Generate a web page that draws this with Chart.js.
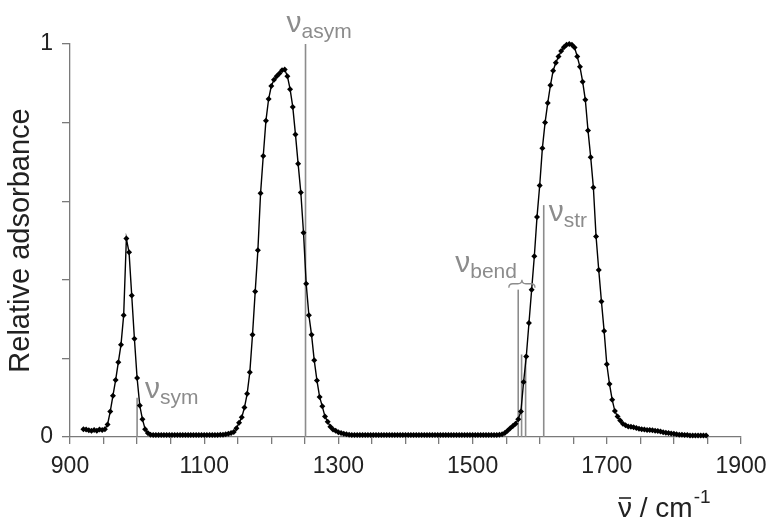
<!DOCTYPE html>
<html>
<head>
<meta charset="utf-8">
<script src="https://cdn.jsdelivr.net/npm/chart.js@4"></script>
<style>
  body { margin: 0; background: #fff; }
  #wrap { width: 770px; height: 522px; }
</style>
</head>
<body>
<div id="wrap"><canvas id="spectrum" width="770" height="522"></canvas></div>
<script>
// wavenumbers (cm-1) and relative absorbance
const wavenumbers = [
  920, 924, 928, 932, 936, 940, 944, 948, 952, 956,
  960, 964, 968, 972, 976, 980, 984, 988, 992, 996,
  1000, 1004, 1008, 1012, 1016, 1020, 1024, 1028, 1032, 1036,
  1040, 1044, 1048, 1052, 1056, 1060, 1064, 1068, 1072, 1076,
  1080, 1084, 1088, 1092, 1096, 1100, 1104, 1108, 1112, 1116,
  1120, 1124, 1128, 1132, 1136, 1140, 1144, 1148, 1152, 1156,
  1160, 1164, 1168, 1172, 1176, 1180, 1184, 1188, 1192, 1196,
  1200, 1204, 1208, 1212, 1216, 1220, 1224, 1228, 1232, 1236,
  1240, 1244, 1248, 1252, 1256, 1260, 1264, 1268, 1272, 1276,
  1280, 1284, 1288, 1292, 1296, 1300, 1304, 1308, 1312, 1316,
  1320, 1324, 1328, 1332, 1336, 1340, 1344, 1348, 1352, 1356,
  1360, 1364, 1368, 1372, 1376, 1380, 1384, 1388, 1392, 1396,
  1400, 1404, 1408, 1412, 1416, 1420, 1424, 1428, 1432, 1436,
  1440, 1444, 1448, 1452, 1456, 1460, 1464, 1468, 1472, 1476,
  1480, 1484, 1488, 1492, 1496, 1500, 1504, 1508, 1512, 1516,
  1520, 1524, 1528, 1532, 1536, 1540, 1544, 1548, 1552, 1556,
  1560, 1564, 1568, 1572, 1576, 1580, 1584, 1588, 1592, 1596,
  1600, 1604, 1608, 1612, 1616, 1620, 1624, 1628, 1632, 1636,
  1640, 1644, 1648, 1652, 1656, 1660, 1664, 1668, 1672, 1676,
  1680, 1684, 1688, 1692, 1696, 1700, 1704, 1708, 1712, 1716,
  1720, 1724, 1728, 1732, 1736, 1740, 1744, 1748, 1752, 1756,
  1760, 1764, 1768, 1772, 1776, 1780, 1784, 1788, 1792, 1796,
  1800, 1804, 1808, 1812, 1816, 1820, 1824, 1828, 1832, 1836,
  1840, 1844, 1848
];
const absorbance = [
  0.020, 0.019, 0.017, 0.016, 0.018, 0.016, 0.019, 0.018, 0.020, 0.032,
  0.065, 0.105, 0.145, 0.190, 0.235, 0.310, 0.505, 0.470, 0.360, 0.250,
  0.150, 0.080, 0.045, 0.020, 0.010, 0.006, 0.005, 0.005, 0.005, 0.005,
  0.005, 0.005, 0.005, 0.005, 0.005, 0.005, 0.005, 0.005, 0.005, 0.005,
  0.005, 0.005, 0.005, 0.005, 0.005, 0.005, 0.005, 0.005, 0.005, 0.005,
  0.005, 0.006, 0.006, 0.007, 0.008, 0.010, 0.013, 0.022, 0.036, 0.050,
  0.075, 0.110, 0.165, 0.260, 0.370, 0.475, 0.620, 0.715, 0.805, 0.860,
  0.893, 0.909, 0.918, 0.925, 0.933, 0.935, 0.918, 0.885, 0.840, 0.770,
  0.695, 0.622, 0.520, 0.390, 0.310, 0.260, 0.195, 0.144, 0.102, 0.078,
  0.052, 0.039, 0.026, 0.019, 0.016, 0.012, 0.010, 0.008, 0.007, 0.006,
  0.005, 0.005, 0.005, 0.005, 0.005, 0.005, 0.005, 0.005, 0.005, 0.005,
  0.005, 0.005, 0.005, 0.005, 0.005, 0.005, 0.005, 0.005, 0.005, 0.005,
  0.005, 0.005, 0.005, 0.005, 0.005, 0.005, 0.005, 0.005, 0.005, 0.005,
  0.005, 0.005, 0.005, 0.005, 0.005, 0.005, 0.005, 0.005, 0.005, 0.005,
  0.005, 0.005, 0.005, 0.005, 0.005, 0.005, 0.005, 0.005, 0.005, 0.005,
  0.005, 0.005, 0.005, 0.005, 0.005, 0.006, 0.007, 0.010, 0.016, 0.022,
  0.028, 0.034, 0.045, 0.065, 0.140, 0.205, 0.290, 0.375, 0.460, 0.560,
  0.640, 0.735, 0.800, 0.850, 0.895, 0.932, 0.952, 0.968, 0.982, 0.992,
  0.998, 1.000, 0.998, 0.991, 0.968, 0.942, 0.904, 0.858, 0.780, 0.712,
  0.635, 0.510, 0.425, 0.345, 0.270, 0.185, 0.135, 0.095, 0.066, 0.052,
  0.042, 0.034, 0.030, 0.027, 0.026, 0.025, 0.023, 0.021, 0.020, 0.019,
  0.018, 0.018, 0.017, 0.016, 0.015, 0.014, 0.012, 0.011, 0.010, 0.009,
  0.008, 0.007, 0.006, 0.006, 0.005, 0.005, 0.004, 0.004, 0.004, 0.004,
  0.004, 0.004, 0.004
];

// calculated band positions (sticks)
const stickPositions = [1000, 1251, 1568, 1573, 1579, 1606];
const stickHeights = [0.10, 1.00, 0.375, 0.21, 0.21, 0.59];

// band labels: nu + subscript, anchored on a stick
const bandNames = ['sym', 'asym', 'bend', 'str'];
const bandStick = [0, 1, 2, 5];

// x ticks every 50, labelled every 200 from 900
const xMin = 900, xMax = 1900;
const yTicksLabelled = [0, 1];

const FONT = '"Liberation Sans", Arial, sans-serif';
const GREY = '#8c8c8c';
const AXIS = '#7a7a7a';

const labelOffsets = {
  sym:  {dx: 8,   dy: 0},
  asym: {dx: -19, dy: -12},
  bend: {dx: -63, dy: -18},
  str:  {dx: 5,   dy: 16}
};

const annotations = {
  id: 'annotations',
  afterDraw(chart) {
    const {ctx, chartArea, scales: {x, y}} = chart;
    ctx.save();
    ctx.fillStyle = GREY;
    ctx.textBaseline = 'alphabetic';
    bandNames.forEach((name, i) => {
      const s = bandStick[i];
      const off = labelOffsets[name];
      const px = x.getPixelForValue(stickPositions[s]) + off.dx;
      const py = y.getPixelForValue(stickHeights[s]) + off.dy;
      ctx.font = '30px ' + FONT;
      ctx.fillText('ν', px, py);
      const w = ctx.measureText('ν').width;
      ctx.font = '21px ' + FONT;
      ctx.fillText(name, px + w, py + 6);
    });

    // brace over the bend sticks
    const bx0 = x.getPixelForValue(1554), bx1 = x.getPixelForValue(1593);
    const by = y.getPixelForValue(0.39);
    const mid = (bx0 + bx1) / 2, r = 4, h = 4;
    ctx.strokeStyle = GREY;
    ctx.lineWidth = 1.3;
    ctx.beginPath();
    ctx.moveTo(bx0, by + h);
    ctx.quadraticCurveTo(bx0, by, bx0 + r, by);
    ctx.lineTo(mid - r, by);
    ctx.quadraticCurveTo(mid, by, mid, by - h);
    ctx.quadraticCurveTo(mid, by, mid + r, by);
    ctx.lineTo(bx1 - r, by);
    ctx.quadraticCurveTo(bx1, by, bx1, by + h);
    ctx.stroke();

    // x axis title: nu-bar / cm-1
    ctx.fillStyle = '#222';
    const tx = chartArea.right - 123, ty = chart.height - 5;
    ctx.font = '28px ' + FONT;
    ctx.fillText('ν', tx, ty);
    const nw = ctx.measureText('ν').width;
    ctx.strokeStyle = '#222';
    ctx.lineWidth = 1.6;
    ctx.beginPath();
    ctx.moveTo(tx + 1, ty - 19);
    ctx.lineTo(tx + nw - 1, ty - 19);
    ctx.stroke();
    const rest = ' / cm';
    ctx.fillText(rest, tx + nw, ty);
    const rw = ctx.measureText(rest).width;
    ctx.font = '19px ' + FONT;
    ctx.fillText('-1', tx + nw + rw + 1, ty - 14);
    ctx.restore();
  }
};

const spectrum = wavenumbers.map((w, i) => ({x: w, y: absorbance[i]}));
const sticks = stickPositions.map((p, i) => ({
  data: [{x: p, y: 0}, {x: p, y: stickHeights[i]}],
  borderColor: GREY,
  borderWidth: 1.6,
  pointRadius: 0,
  clip: false
}));

new Chart(document.getElementById('spectrum'), {
  type: 'line',
  data: {
    datasets: [{
      data: spectrum,
      borderColor: '#000',
      borderWidth: 1.4,
      backgroundColor: '#000',
      pointStyle: 'rectRot',
      pointRadius: 3,
      pointBorderWidth: 0,
      tension: 0,
      clip: false
    }, ...sticks]
  },
  options: {
    responsive: false,
    animation: false,
    devicePixelRatio: 1,
    layout: {padding: {top: 44, right: 29, left: 0, bottom: 0}},
    plugins: {legend: {display: false}, tooltip: {enabled: false}},
    scales: {
      x: {
        type: 'linear',
        min: xMin,
        max: xMax,
        afterFit: s => { s.height = 85; s.paddingRight = 0; s.paddingLeft = 0; },
        border: {display: true, color: AXIS, width: 1.3},
        grid: {drawOnChartArea: false, color: AXIS, tickColor: AXIS, tickLength: 7, lineWidth: 1.3},
        ticks: {
          stepSize: 50,
          autoSkip: false,
          maxRotation: 0,
          padding: 9,
          color: '#222',
          font: {family: FONT, size: 23},
          callback: v => ((v - xMin) % 200 === 0 ? String(v) : '')
        }
      },
      y: {
        min: 0,
        max: 1,
        afterFit: s => { s.width = 70; },
        border: {display: true, color: AXIS, width: 1.3},
        grid: {drawOnChartArea: false, color: AXIS, tickColor: AXIS, tickLength: 8, lineWidth: 1.3},
        ticks: {
          stepSize: 0.2,
          padding: 9,
          color: '#222',
          font: {family: FONT, size: 23},
          callback: v => (yTicksLabelled.includes(v) ? String(v) : '')
        },
        title: {
          display: true,
          text: 'Relative adsorbance',
          color: '#222',
          padding: {top: 4},
          font: {family: FONT, size: 29}
        }
      }
    }
  },
  plugins: [annotations]
});
</script>
</body>
</html>
